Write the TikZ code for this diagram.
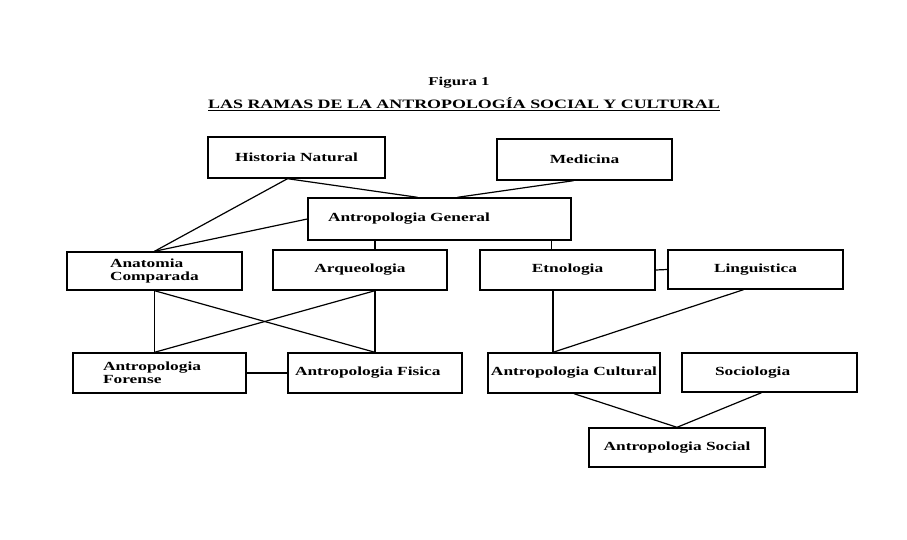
\documentclass[tikz,border=0pt]{standalone}
\usepackage{fontspec}
\setmainfont[FakeStretch=1.4]{Liberation Serif}
\begin{document}
\begin{tikzpicture}[
  x=1pt, y=-1pt,
  every node/.style={font=\fontsize{12.4}{12.5}\selectfont\bfseries, inner sep=0pt},
  rama/.style={rectangle, draw, line width=1.4pt, minimum height=40pt},
  izq/.style={align=left, text width=#1},
  enlace/.style={draw, line width=1.2pt}
]
\useasboundingbox (0,0) rectangle (907,540);
\node (fig) at (459,83) {\fontsize{12}{13}\selectfont Figura 1};
\node (titulo) at (464,104) {\fontsize{12.8}{13}\selectfont\underline{LAS RAMAS DE LA ANTROPOLOGÍA SOCIAL Y CULTURAL}};

\node[rama, minimum width=177pt, minimum height=41pt] (hist) at (296.5,157.5) {Historia Natural};
\node[rama, minimum width=175pt, minimum height=41pt] (med) at (584.5,159.5) {Medicina};
\node[rama, minimum height=42pt, inner xsep=20pt, izq=223pt] (gen) at (439.5,219) {Antropologia General};

\node[rama, minimum height=38pt, inner xsep=43pt, izq=89pt] (anat) at (154.5,271) {Anatomia\\Comparada};
\node[rama, minimum width=174pt] (arq) at (360,270) {Arqueologia};
\node[rama, minimum width=175pt] (etno) at (567.5,270) {Etnologia};
\node[rama, minimum width=175pt, minimum height=39pt] (ling) at (755.5,269.5) {Linguistica};

\node[rama, inner xsep=30pt, izq=113pt] (fore) at (159.5,373) {Antropologia\\Forense};
\node[rama, inner xsep=7pt, izq=160pt] (fis) at (375,373) {Antropologia Fisica};
\node[rama, minimum width=172pt] (cult) at (574,373) {Antropologia Cultural};
\node[rama, minimum height=39pt, inner xsep=33pt, izq=109pt] (soc) at (769.5,372.5) {Sociologia};
\node[rama, minimum width=176pt, minimum height=39pt] (social) at (677,447.5) {Antropologia Social};

\draw[enlace] ([xshift=-9pt]hist.south) -- (anat.north);
\draw[enlace] (gen.west) -- (anat.north);
\draw[enlace] ([xshift=-9pt]hist.south) -- ([xshift=-22pt]gen.north);
\draw[enlace] ([xshift=-11pt]med.south) -- ([xshift=18pt]gen.north);
\draw[enlace] (gen.south -| fis.north) -- (arq.north -| fis.north);
\draw[enlace] ([xshift=-16pt]etno.north |- gen.south) -- ([xshift=-16pt]etno.north);

\draw[enlace] (anat.south) -- (anat.south |- fore.north);
\draw[enlace] (fis.north |- arq.south) -- (fis.north);
\draw[enlace] (anat.south) -- (fis.north);
\draw[enlace] (fis.north |- arq.south) -- (anat.south |- fore.north);
\draw[enlace] (fore.east) -- (fis.west);

\draw[enlace] (etno.east) -- (ling.west);
\draw[enlace] ([xshift=-21pt]cult.north |- etno.south) -- ([xshift=-21pt]cult.north);
\draw[enlace] ([xshift=-12pt]ling.south) -- ([xshift=-21pt]cult.north);
\draw[enlace] (cult.south) -- (social.north);
\draw[enlace] ([xshift=-8pt]soc.south) -- (social.north);
\end{tikzpicture}
\end{document}
